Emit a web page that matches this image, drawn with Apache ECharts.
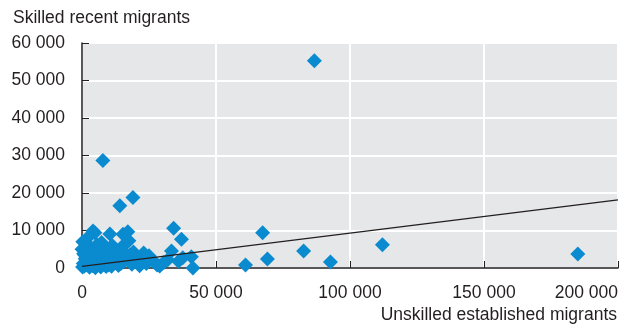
<!DOCTYPE html>
<html>
<head>
<meta charset="utf-8">
<script src="https://cdn.jsdelivr.net/npm/echarts@6/dist/echarts.min.js"></script>
<style>
  html, body { margin: 0; padding: 0; background: #fff; }
  #main { width: 631px; height: 326px; }
</style>
</head>
<body>
<div id="main"></div>
<script>
// 数据：非技术老移民 (x) 与技术新移民 (y)
var unskilledEstablished = [
  0, 200, 500, 800, 1200, 1500, 1800, 1750, 2200, 2500, 3000, 3300, 3600, 4100, 4500,
  4800, 5200, 5600, 6000, 6500, 7000, 7300, 7800, 8200, 8800, 9300, 9800, 10400, 10800,
  11300, 11800, 12400, 13000, 13600, 14200, 14800, 15300, 15800, 16400, 17100, 17500,
  18000, 18600, 19200, 20000, 20800, 21500, 22300, 23000, 24000, 25000, 26500, 28000,
  29000, 30500, 32000, 33400, 34200, 36000, 37100, 37600, 40800, 41400, 300, 2800,
  5000, 9000, 12000, 7800, 19000, 14100, 61000, 67400, 69200, 82700, 86700, 92700,
  112100, 185000,
  1000, 2000, 3500, 4000, 5500, 6200, 7500, 8500, 10000, 11000, 12800, 14500, 16000,
  17800, 600, 3100
];
var skilledRecent = [
  5000, 300, 1200, 500, 2500, 800, 4000, 7800, 1500, 3200, 600, 5500, 2100, 9900, 1000,
  9400, 3600, 6200, 1800, 4500, 300, 6800, 2700, 1100, 5000, 3900, 800, 9100, 2200,
  6000, 3300, 1400, 4700, 700, 2800, 5600, 9000, 1900, 3800, 9700, 7300,
  2400, 1000, 4300, 3000, 1600, 600, 2500, 4000, 1200, 3300, 2000, 800,
  540, 1500, 2200, 4560, 10600, 1800, 7700, 2760, 3030, 0, 7000, 200,
  100, 400, 2600, 28700, 18800, 16600, 800, 9400, 2400, 4560, 55300, 1600,
  6170, 3750,
  3500, 2800, 4200, 700, 2600, 3000, 1500, 3100, 2000, 500, 2900, 1200, 2300,
  3500, 3800, 1300
];
// 趋势线端点
var trendX = [0, 200000];
var trendY = [445, 18150];

var xTicks = { min: 0, max: 200000, interval: 50000 };
var yTicks = { min: 0, max: 60000, interval: 10000 };

var points = [];
for (var i = 0; i < unskilledEstablished.length; i++) {
  points.push([unskilledEstablished[i], skilledRecent[i]]);
}
var trend = [[trendX[0], trendY[0]], [trendX[1], trendY[1]]];

var fontFam = "'Liberation Sans', Arial, sans-serif";
var fs = 17.5;
function fmt(v) {
  return String(v).replace(/\B(?=(\d{3})+(?!\d))/g, ' ');
}

var myChart = echarts.init(document.getElementById('main'), null, { renderer: 'canvas' });
var option = {
  animation: false,
  backgroundColor: '#fff',
  textStyle: { fontFamily: fontFam },
  grid: {
    left: 82, right: 13, top: 43, bottom: 58,
    show: true,
    backgroundColor: '#e6e7e8',
    borderWidth: 0
  },
  graphic: [
    {
      type: 'text', left: 13, top: 9,
      style: { text: 'Skilled recent migrants', fontSize: fs, fontFamily: fontFam, fill: '#231f20' }
    },
    {
      type: 'text', right: 14, top: 306,
      style: { text: 'Unskilled established migrants', fontSize: fs, fontFamily: fontFam, fill: '#231f20' }
    }
  ],
  xAxis: {
    type: 'value',
    min: xTicks.min, max: xTicks.max, interval: xTicks.interval,
    axisLine: { show: true, onZero: false, lineStyle: { color: '#231f20', width: 1.5 } },
    axisTick: { show: true, inside: true, length: 7, lineStyle: { color: '#231f20', width: 1 } },
    axisLabel: {
      margin: 16, fontSize: fs, color: '#231f20', fontFamily: fontFam,
      alignMaxLabel: 'right',
      formatter: fmt
    },
    splitLine: { show: true, lineStyle: { color: '#ffffff', width: 2 } }
  },
  yAxis: {
    type: 'value',
    min: yTicks.min, max: yTicks.max, interval: yTicks.interval,
    axisLine: { show: true, onZero: false, lineStyle: { color: '#231f20', width: 1.5 } },
    axisTick: { show: true, inside: true, length: 7, lineStyle: { color: '#231f20', width: 1 } },
    axisLabel: {
      margin: 17, fontSize: fs, color: '#231f20', fontFamily: fontFam,
      formatter: fmt
    },
    splitLine: { show: true, lineStyle: { color: '#ffffff', width: 2 } }
  },
  series: [
    {
      name: 'migrants',
      type: 'scatter',
      symbol: 'diamond',
      symbolSize: 15,
      itemStyle: { color: '#0a8bd0', opacity: 1 },
      data: points,
      z: 2
    },
    {
      name: 'trend',
      type: 'line',
      showSymbol: false,
      symbol: 'none',
      lineStyle: { color: '#231f20', width: 1.3 },
      data: trend,
      z: 3
    }
  ]
};
myChart.setOption(option);
</script>
</body>
</html>
